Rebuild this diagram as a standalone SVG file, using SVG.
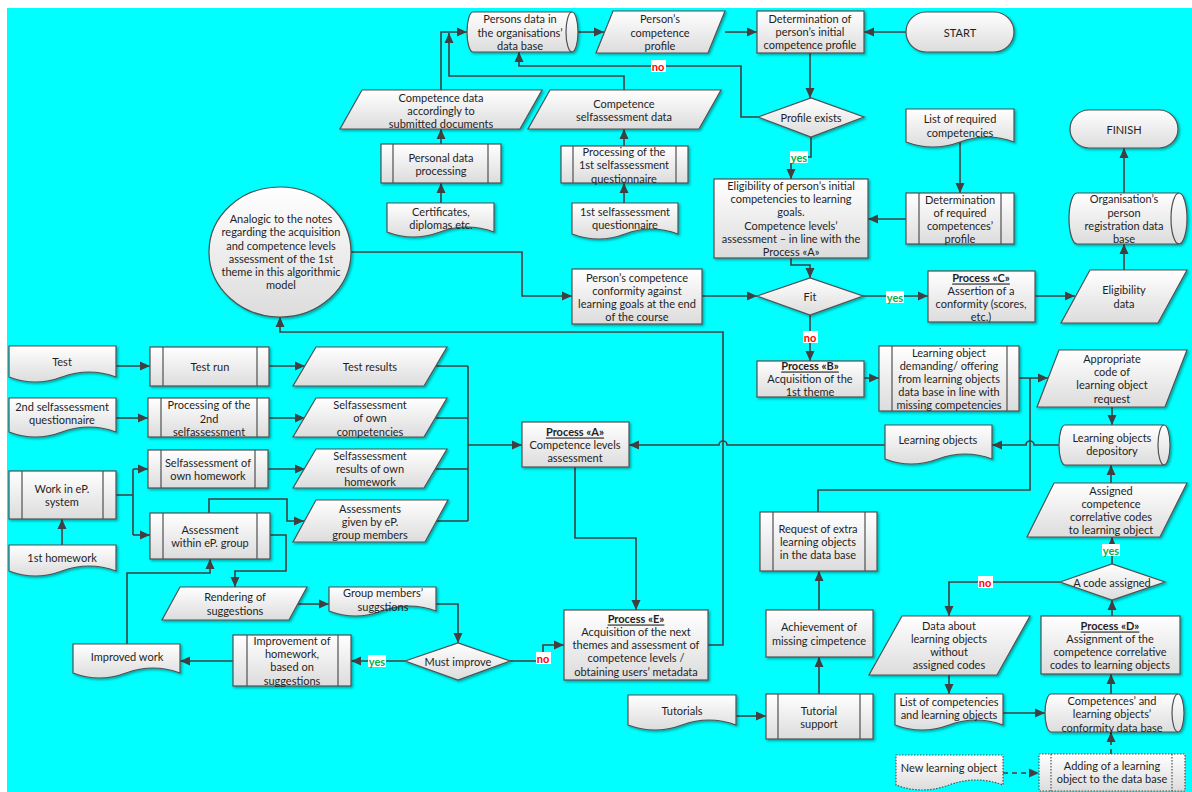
<svg xmlns="http://www.w3.org/2000/svg" width="1192" height="792" viewBox="0 0 1192 792">
<defs>
<linearGradient id="g" x1="0" y1="0" x2="0" y2="1">
<stop offset="0" stop-color="#ffffff"/>
<stop offset="1" stop-color="#dcdcdc"/>
</linearGradient>
<filter id="sh" x="-10%" y="-10%" width="130%" height="140%">
<feDropShadow dx="1.5" dy="1.5" stdDeviation="0.8" flood-color="#000" flood-opacity="0.35"/>
</filter>
<marker id="a" markerUnits="userSpaceOnUse" markerWidth="11" markerHeight="10" refX="10" refY="5" orient="auto">
<path d="M0,0.5 L10,5 L0,9.5 Z" fill="#404040"/>
</marker>
</defs>
<style>
.n{fill:url(#g);stroke:#505050;stroke-width:1.2;filter:url(#sh)}
.d{fill:url(#g);stroke:#505050;stroke-width:1.2;stroke-dasharray:1.5 1.5}
.i{fill:none;stroke:#505050;stroke-width:1.2}
.id{fill:none;stroke:#505050;stroke-width:1.2;stroke-dasharray:1.5 1.5}
.t{font-family:Lato,"Liberation Sans",sans-serif;font-size:11px;fill:#1f1f1f;text-anchor:middle;dominant-baseline:central}
.u{font-weight:bold;text-decoration:underline}
.c{fill:none;stroke:#404040;stroke-width:1.6;marker-end:url(#a)}
.l{fill:none;stroke:#404040;stroke-width:1.6}
.dash{stroke-dasharray:5 4}
.lb{font-family:Lato,"Liberation Sans",sans-serif;font-size:11px;font-weight:bold;text-anchor:middle;dominant-baseline:central}
.no{fill:#ff0000}
.yes{fill:#00b050}
.bg{fill:#ffffff}
</style>
<rect x="0" y="0" width="1192" height="792" fill="#ffffff"/>
<rect x="7" y="8" width="1185" height="784" fill="#00ffff"/>

<g id="connectors">
<path class="c" d="M906,32 H864"/>
<path class="c" d="M725,32 H757"/>
<path class="c" d="M578,32 H604"/>
<path class="c" d="M810,53 V98"/>
<path class="c" d="M758,117 H741 V66 H519 V52"/>
<path class="c" d="M811,137 V157 H791 V179"/>
<path class="c" d="M960,142 V193"/>
<path class="c" d="M906,219 H868"/>
<path class="c" d="M1124,193 V148"/>
<path class="c" d="M1124,270 V244"/>
<path class="c" d="M791,258 V265 H810 V278"/>
<path class="c" d="M702,296 H757"/>
<path class="c" d="M351,252 H522 V296 H572"/>
<path class="c" d="M863,296 H928"/>
<path class="c" d="M1035,296 H1075"/>
<path class="c" d="M810,315 V361"/>
<path class="c" d="M864,378 H879"/>
<path class="c" d="M1019,378 H1048"/>
<path class="l" d="M818,512 V490 H1030 V378"/>
<path class="c" d="M1112,407 V425"/>
<path class="c" d="M1059,445 H1034 a4,4 0 0 0 -8,0 H992"/>
<path class="c" d="M885,445 H727 a4,4 0 0 0 -8,0 H629"/>
<path class="l" d="M436,366 H468 M436,418 H468 M436,469 H468 M434,521 H468 M468,366 V521"/>
<path class="c" d="M468,445 H522"/>
<path class="c" d="M575,467 V538 H636 V610"/>
<path class="c" d="M708,645 H723 V332 H280 V317"/>
<path class="c" d="M116,366 H150"/>
<path class="c" d="M269,366 H305"/>
<path class="c" d="M116,418 H148"/>
<path class="c" d="M269,418 H305"/>
<path class="l" d="M116,495 H133 M133,469 V535"/>
<path class="c" d="M133,469 H148"/>
<path class="c" d="M133,535 H150"/>
<path class="c" d="M268,469 H305"/>
<path class="c" d="M209,513 V499 H287 V521 H304"/>
<path class="c" d="M270,535 H286 V571 H235 V587"/>
<path class="c" d="M298,604 H329"/>
<path class="c" d="M436,604 H458 V643"/>
<path class="c" d="M510,661 H543 V645 H564"/>
<path class="c" d="M405,661 H351"/>
<path class="c" d="M233,661 H180"/>
<path class="c" d="M127,644 V573 H210 V559"/>
<path class="c" d="M62,545 V519"/>
<path class="c" d="M736,716 H766"/>
<path class="c" d="M819,694 V657"/>
<path class="c" d="M819,610 V571"/>
<path class="c" d="M1111,483 V465"/>
<path class="c" d="M1112,564 V537"/>
<path class="c" d="M1060,582 H949 V616"/>
<path class="c" d="M949,675 V694"/>
<path class="c" d="M1003,713 H1045"/>
<path class="c" d="M1111,694 V674"/>
<path class="c" d="M1112,616 V600"/>
<path class="c dash" d="M1003,773 H1039"/>
<path class="c dash" d="M1111,754 V732"/>
<path class="c" d="M441,203 V183"/>
<path class="c" d="M441,144 V129"/>
<path class="c" d="M441,90 V32 H467"/>
<path class="c" d="M624,203 V183"/>
<path class="c" d="M624,146 V129"/>
<path class="c" d="M624,90 V76 H449 V33"/>
</g>

<g id="labels">
<rect class="bg" x="651" y="60" width="15" height="12"/><text class="lb no" x="658" y="66">no</text>
<rect class="bg" x="790" y="151" width="18" height="12"/><text class="lb yes" x="799" y="157">yes</text>
<rect class="bg" x="886" y="291" width="18" height="12"/><text class="lb yes" x="895" y="297">yes</text>
<rect class="bg" x="803" y="331" width="15" height="12"/><text class="lb no" x="810" y="337">no</text>
<rect class="bg" x="368" y="655" width="18" height="12"/><text class="lb yes" x="377" y="661">yes</text>
<rect class="bg" x="536" y="652" width="15" height="12"/><text class="lb no" x="543" y="658">no</text>
<rect class="bg" x="978" y="576" width="15" height="12"/><text class="lb no" x="985" y="582">no</text>
<rect class="bg" x="1102" y="544" width="18" height="12"/><text class="lb yes" x="1111" y="550">yes</text>
</g>

<g id="persons-db">
<path class="n" d="M473,12 H572 A6,20 0 0 1 572,52 H473 A6,20 0 0 1 473,12 Z"/>
<path class="i" d="M572,12 A6,20 0 0 0 572,52"/>
<text class="t" x="520" y="18">Persons data in</text>
<text class="t" x="520" y="32">the organisations’</text>
<text class="t" x="520" y="45">data base</text>
</g>
<g id="competence-profile">
<path class="n" d="M613,11 H725 L708,53 H596 Z"/>
<text class="t" x="660" y="18">Person’s</text>
<text class="t" x="660" y="32">competence</text>
<text class="t" x="660" y="45">profile</text>
</g>
<g id="determination-initial">
<rect class="n" x="757" y="11" width="107" height="42"/>
<text class="t" x="810" y="18">Determination of</text>
<text class="t" x="810" y="31">person’s initial</text>
<text class="t" x="810" y="44">competence profile</text>
</g>
<g id="start">
<rect class="n" x="906" y="12" width="108" height="40" rx="20"/>
<text class="t" x="960" y="32">START</text>
</g>
<g id="profile-exists">
<path class="n" d="M758,117 L811,98 L864,117 L811,137 Z"/>
<text class="t" x="811" y="117">Profile exists</text>
</g>
<g id="eligibility-initial">
<rect class="n" x="714" y="179" width="154" height="79"/>
<text class="t" x="791" y="185">Eligibility of person’s initial</text>
<text class="t" x="791" y="198">competencies to learning</text>
<text class="t" x="791" y="211">goals.</text>
<text class="t" x="791" y="225">Competence levels’</text>
<text class="t" x="791" y="238">assessment – in line with  the</text>
<text class="t" x="791" y="251">Process «A»</text>
</g>
<g id="list-required">
<path class="n" d="M906,109 H1014 V142 Q987,132 960,142 T906,142 Z"/>
<text class="t" x="960" y="118">List of required</text>
<text class="t" x="960" y="132">competencies</text>
</g>
<g id="determination-required">
<rect class="n" x="906" y="193" width="108" height="51"/>
<path class="i" d="M919,193 V244 M1001,193 V244"/>
<text class="t" x="960" y="199">Determination</text>
<text class="t" x="960" y="212">of required</text>
<text class="t" x="960" y="225">competences’</text>
<text class="t" x="960" y="238">profile</text>
</g>
<g id="finish">
<rect class="n" x="1070" y="110" width="108" height="38" rx="19"/>
<text class="t" x="1124" y="129">FINISH</text>
</g>
<g id="org-db">
<path class="n" d="M1077,193 H1179 A8,25.5 0 0 1 1179,244 H1077 A8,25.5 0 0 1 1077,193 Z"/>
<path class="i" d="M1179,193 A8,25.5 0 0 0 1179,244"/>
<text class="t" x="1124" y="198">Organisation’s</text>
<text class="t" x="1124" y="212">person</text>
<text class="t" x="1124" y="225">registration data</text>
<text class="t" x="1124" y="238">base</text>
</g>
<g id="eligibility-data">
<path class="n" d="M1090,270 H1187 L1158,323 H1061 Z"/>
<text class="t" x="1124" y="289">Eligibility</text>
<text class="t" x="1124" y="303">data</text>
</g>
<g id="fit">
<path class="n" d="M757,296 L810,278 L863,296 L810,315 Z"/>
<text class="t" x="810" y="296">Fit</text>
</g>
<g id="conformity">
<rect class="n" x="572" y="269" width="130" height="55"/>
<text class="t" x="637" y="277">Person’s  competence</text>
<text class="t" x="637" y="290">conformity against</text>
<text class="t" x="637" y="303">learning goals at the end</text>
<text class="t" x="637" y="316">of the course</text>
</g>
<g id="analogic">
<ellipse class="n" cx="280" cy="252" rx="71" ry="65"/>
<text class="t" x="281" y="218">Analogic to the notes</text>
<text class="t" x="281" y="231">regarding the acquisition</text>
<text class="t" x="281" y="245">and competence levels</text>
<text class="t" x="281" y="258">assessment of the 1st</text>
<text class="t" x="281" y="271">theme in this algorithmic</text>
<text class="t" x="281" y="284">model</text>
</g>
<g id="process-c">
<rect class="n" x="928" y="271" width="107" height="51"/>
<text class="t u" x="981" y="277">Process «C»</text>
<text class="t" x="981" y="290">Assertion of a</text>
<text class="t" x="981" y="303">conformity (scores,</text>
<text class="t" x="981" y="316">etc.)</text>
</g>
<g id="process-b">
<rect class="n" x="757" y="361" width="107" height="36"/>
<text class="t u" x="810" y="365">Process «B»</text>
<text class="t" x="810" y="378">Acquisition of the</text>
<text class="t" x="810" y="391">1st theme</text>
</g>
<g id="lo-demanding">
<rect class="n" x="879" y="346" width="140" height="65"/>
<path class="i" d="M892,346 V411 M1007,346 V411"/>
<text class="t" x="949" y="352">Learning object</text>
<text class="t" x="949" y="365">demanding/ offering</text>
<text class="t" x="949" y="378">from learning objects</text>
<text class="t" x="949" y="391">data base in line with</text>
<text class="t" x="949" y="404">missing competencies</text>
</g>
<g id="appropriate-code">
<path class="n" d="M1059,350 H1187 L1165,407 H1037 Z"/>
<text class="t" x="1112" y="358">Appropriate</text>
<text class="t" x="1112" y="371">code of</text>
<text class="t" x="1112" y="384">learning object</text>
<text class="t" x="1112" y="398">request</text>
</g>
<g id="lo-depository">
<path class="n" d="M1065,425 H1164 A6,20 0 0 1 1164,465 H1065 A6,20 0 0 1 1065,425 Z"/>
<path class="i" d="M1164,425 A6,20 0 0 0 1164,465"/>
<text class="t" x="1112" y="437">Learning objects</text>
<text class="t" x="1112" y="450">depository</text>
</g>
<g id="learning-objects">
<path class="n" d="M885,425 H992 V459 Q965,449 938,459 T885,459 Z"/>
<text class="t" x="938" y="439">Learning objects</text>
</g>
<g id="process-a">
<rect class="n" x="522" y="422" width="107" height="45"/>
<text class="t u" x="575" y="431">Process «A»</text>
<text class="t" x="575" y="444">Competence levels</text>
<text class="t" x="575" y="457">assessment</text>
</g>
<g id="process-e">
<rect class="n" x="564" y="610" width="144" height="70"/>
<text class="t u" x="636" y="618">Process «E»</text>
<text class="t" x="636" y="631">Acquisition of the next</text>
<text class="t" x="636" y="644">themes and assessment of</text>
<text class="t" x="636" y="657">competence levels /</text>
<text class="t" x="636" y="671">obtaining users’ metadata</text>
</g>
<g id="test">
<path class="n" d="M9,346 H116 V377 Q89,367 62,377 T9,377 Z"/>
<text class="t" x="62" y="361">Test</text>
</g>
<g id="test-run">
<rect class="n" x="150" y="347" width="119" height="39"/>
<path class="i" d="M163,347 V386 M257,347 V386"/>
<text class="t" x="210" y="366">Test run</text>
</g>
<g id="test-results">
<path class="n" d="M316,347 H447 L424,386 H293 Z"/>
<text class="t" x="370" y="366">Test results</text>
</g>
<g id="questionnaire-2">
<path class="n" d="M9,398 H116 V432 Q89,422 62,432 T9,432 Z"/>
<text class="t" x="62" y="406">2nd selfassessment</text>
<text class="t" x="62" y="419">questionnaire</text>
</g>
<g id="processing-2">
<rect class="n" x="148" y="398" width="121" height="39"/>
<path class="i" d="M161,398 V437 M257,398 V437"/>
<text class="t" x="209" y="404">Processing of the</text>
<text class="t" x="209" y="418">2nd</text>
<text class="t" x="209" y="431">selfassessment</text>
</g>
<g id="self-competencies">
<path class="n" d="M316,398 H447 L424,437 H293 Z"/>
<text class="t" x="370" y="404">Selfassessment</text>
<text class="t" x="370" y="417">of own</text>
<text class="t" x="370" y="431">competencies</text>
</g>
<g id="self-homework">
<rect class="n" x="148" y="450" width="120" height="38"/>
<path class="i" d="M161,450 V488 M255,450 V488"/>
<text class="t" x="208" y="462">Selfassessment of</text>
<text class="t" x="208" y="475">own homework</text>
</g>
<g id="self-results">
<path class="n" d="M316,449 H447 L424,488 H293 Z"/>
<text class="t" x="370" y="455">Selfassessment</text>
<text class="t" x="370" y="468">results of own</text>
<text class="t" x="370" y="481">homework</text>
</g>
<g id="work-ep">
<rect class="n" x="9" y="471" width="107" height="48"/>
<path class="i" d="M22,471 V519 M103,471 V519"/>
<text class="t" x="62" y="488">Work in eP.</text>
<text class="t" x="62" y="501">system</text>
</g>
<g id="assessment-group">
<rect class="n" x="150" y="513" width="120" height="46"/>
<path class="i" d="M163,513 V559 M257,513 V559"/>
<text class="t" x="210" y="529">Assessment</text>
<text class="t" x="210" y="542">within eP. group</text>
</g>
<g id="assessments-given">
<path class="n" d="M316,500 H448 L425,542 H293 Z"/>
<text class="t" x="370" y="508">Assessments</text>
<text class="t" x="370" y="521">given by eP.</text>
<text class="t" x="370" y="534">group members</text>
</g>
<g id="homework-1">
<path class="n" d="M9,545 H116 V571 Q89,561 62,571 T9,571 Z"/>
<text class="t" x="62" y="557">1st homework</text>
</g>
<g id="rendering">
<path class="n" d="M180,587 H307 L289,620 H162 Z"/>
<text class="t" x="235" y="596">Rendering of</text>
<text class="t" x="235" y="610">suggestions</text>
</g>
<g id="group-suggestions">
<path class="n" d="M329,587 H436 V611 Q409,601 382,611 T329,611 Z"/>
<text class="t" x="383" y="592">Group members’</text>
<text class="t" x="383" y="606">suggstions</text>
</g>
<g id="must-improve">
<path class="n" d="M405,661 L458,643 L510,661 L458,680 Z"/>
<text class="t" x="458" y="661">Must improve</text>
</g>
<g id="improvement">
<rect class="n" x="233" y="635" width="118" height="51"/>
<path class="i" d="M247,635 V686 M338,635 V686"/>
<text class="t" x="292" y="640">Improvement of</text>
<text class="t" x="292" y="653">homework,</text>
<text class="t" x="292" y="666">based on</text>
<text class="t" x="292" y="680">suggestions</text>
</g>
<g id="improved-work">
<path class="n" d="M73,644 H180 V673 Q153,663 126,673 T73,673 Z"/>
<text class="t" x="127" y="656">Improved work</text>
</g>
<g id="tutorials">
<path class="n" d="M628,695 H736 V725 Q709,715 682,725 T628,725 Z"/>
<text class="t" x="682" y="710">Tutorials</text>
</g>
<g id="tutorial-support">
<rect class="n" x="766" y="694" width="107" height="45"/>
<path class="i" d="M778,694 V739 M860,694 V739"/>
<text class="t" x="819" y="710">Tutorial</text>
<text class="t" x="819" y="723">support</text>
</g>
<g id="achievement">
<rect class="n" x="766" y="610" width="107" height="47"/>
<text class="t" x="819" y="626">Achievement of</text>
<text class="t" x="819" y="640">missing cimpetence</text>
</g>
<g id="request-extra">
<rect class="n" x="760" y="512" width="117" height="59"/>
<path class="i" d="M773,512 V571 M865,512 V571"/>
<text class="t" x="818" y="528">Request of extra</text>
<text class="t" x="818" y="541">learning objects</text>
<text class="t" x="818" y="554">in the data base</text>
</g>
<g id="assigned-codes">
<path class="n" d="M1054,483 H1187 L1160,537 H1027 Z"/>
<text class="t" x="1111" y="490">Assigned</text>
<text class="t" x="1111" y="503">competence</text>
<text class="t" x="1111" y="516">correlative codes</text>
<text class="t" x="1111" y="529">to learning object</text>
</g>
<g id="code-assigned">
<path class="n" d="M1060,582 L1112,564 L1165,582 L1112,600 Z"/>
<text class="t" x="1112" y="582">A code assigned</text>
</g>
<g id="data-without-codes">
<path class="n" d="M902,616 H1030 L997,675 H869 Z"/>
<text class="t" x="949" y="625">Data about</text>
<text class="t" x="949" y="638">learning objects</text>
<text class="t" x="949" y="651">without</text>
<text class="t" x="949" y="664">assigned codes</text>
</g>
<g id="list-competencies-lo">
<path class="n" d="M895,694 H1003 V725 Q976,715 949,725 T895,725 Z"/>
<text class="t" x="949" y="701">List of competencies</text>
<text class="t" x="949" y="714">and learning objects</text>
</g>
<g id="conformity-db">
<path class="n" d="M1051,694 H1178 A6,19 0 0 1 1178,732 H1051 A6,19 0 0 1 1051,694 Z"/>
<path class="i" d="M1178,694 A6,19 0 0 0 1178,732"/>
<text class="t" x="1112" y="700">Competences’ and</text>
<text class="t" x="1112" y="713">learning objects’</text>
<text class="t" x="1112" y="727">conformity data base</text>
</g>
<g id="process-d">
<rect class="n" x="1041" y="616" width="139" height="58"/>
<text class="t u" x="1110" y="625">Process «D»</text>
<text class="t" x="1110" y="638">Assignment of the</text>
<text class="t" x="1110" y="651">competence correlative</text>
<text class="t" x="1110" y="664">codes to learning objects</text>
</g>
<g id="new-lo">
<path class="d" d="M896,755 H1003 V785 Q976,775 949,785 T896,785 Z"/>
<text class="t" x="949" y="767">New learning object</text>
</g>
<g id="adding-lo">
<rect class="d" x="1039" y="754" width="146" height="37"/>
<path class="id" d="M1051,754 V791 M1172,754 V791"/>
<text class="t" x="1112" y="765">Adding of a learning</text>
<text class="t" x="1112" y="778">object to the data base</text>
</g>
<g id="certificates">
<path class="n" d="M387,203 H494 V232 Q467,222 440,232 T387,232 Z"/>
<text class="t" x="441" y="211">Certificates,</text>
<text class="t" x="441" y="224">diplomas etc.</text>
</g>
<g id="personal-processing">
<rect class="n" x="381" y="144" width="120" height="39"/>
<path class="i" d="M393,144 V183 M488,144 V183"/>
<text class="t" x="441" y="157">Personal data</text>
<text class="t" x="441" y="170">processing</text>
</g>
<g id="competence-data">
<path class="n" d="M362,90 H542 L520,129 H340 Z"/>
<text class="t" x="441" y="97">Competence data</text>
<text class="t" x="441" y="110">accordingly to</text>
<text class="t" x="441" y="123">submitted documents</text>
</g>
<g id="self-data">
<path class="n" d="M550,90 H721 L699,129 H528 Z"/>
<text class="t" x="624" y="103">Competence</text>
<text class="t" x="624" y="116">selfassessment data</text>
</g>
<g id="processing-1">
<rect class="n" x="561" y="146" width="127" height="37"/>
<path class="i" d="M573,146 V183 M676,146 V183"/>
<text class="t" x="624" y="151">Processing of the</text>
<text class="t" x="624" y="164">1st selfassessment</text>
<text class="t" x="624" y="178">questionnaire</text>
</g>
<g id="questionnaire-1">
<path class="n" d="M572,203 H678 V234 Q651,224 625,234 T572,234 Z"/>
<text class="t" x="625" y="211">1st selfassessment</text>
<text class="t" x="625" y="224">questionnaire</text>
</g>
</svg>
